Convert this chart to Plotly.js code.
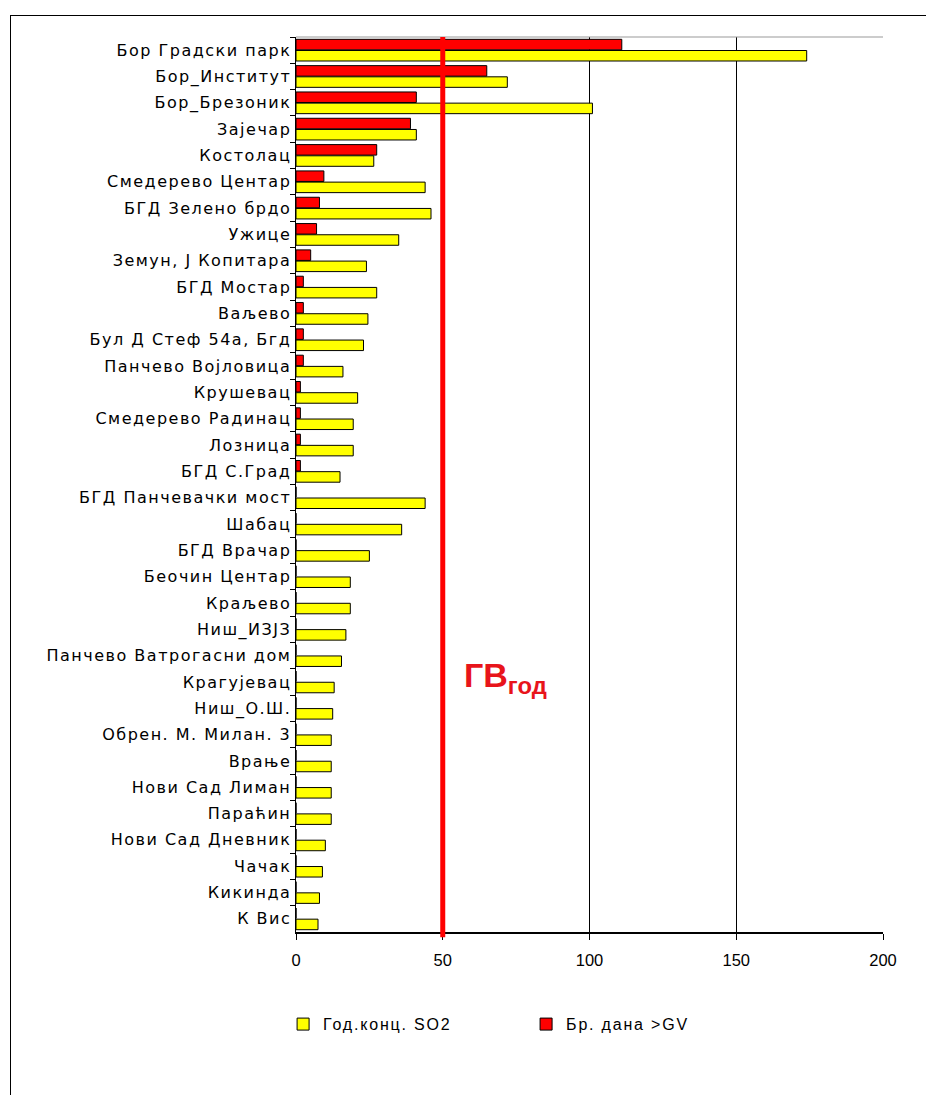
<!DOCTYPE html>
<html>
<head>
<meta charset="utf-8">
<script src="https://cdn.plot.ly/plotly-3.0.1.min.js"></script>
<style>
  html, body { margin: 0; padding: 0; background: #fff; }
  #wrap { position: relative; width: 926px; height: 1095px; overflow: hidden; }
  #chart { position: absolute; left: 0; top: 0; width: 926px; height: 1095px; }
  #frame { position: absolute; left: 10px; top: 15px; width: 930px; height: 1100px; border: 1px solid #000; pointer-events: none; }
  #chart .ytick text { letter-spacing: 1.5px; }
  #chart .legendtext { letter-spacing: 1.8px; }
</style>
</head>
<body>
<div id="wrap">
  <div id="chart"></div>
  <div id="frame"></div>
</div>
<script>
const stations = [
  "Бор Градски парк", "Бор_Институт", "Бор_Брезоник", "Зајечар", "Костолац",
  "Смедерево Центар", "БГД Зелено брдо", "Ужице", "Земун, Ј Копитара", "БГД Мостар",
  "Ваљево", "Бул Д Стеф 54а, Бгд", "Панчево Војловица", "Крушевац", "Смедерево Радинац",
  "Лозница", "БГД С.Град", "БГД Панчевачки мост", "Шабац", "БГД Врачар",
  "Беочин Центар", "Краљево", "Ниш_ИЗЈЗ", "Панчево Ватрогасни дом", "Крагујевац",
  "Ниш_О.Ш.", "Обрен. М. Милан. 3", "Врање", "Нови Сад Лиман", "Параћин",
  "Нови Сад Дневник", "Чачак", "Кикинда", "К Вис"
];
const annualSO2 = [
  174, 72, 101, 41, 26.5,
  44, 46, 35, 24, 27.5,
  24.5, 23, 16, 21, 19.5,
  19.5, 15, 44, 36, 25,
  18.5, 18.5, 17, 15.5, 13,
  12.5, 12, 12, 12, 12,
  10, 9, 8, 7.5
];
const daysOverGV = [
  111, 65, 41, 39, 27.5,
  9.5, 8, 7, 5, 2.5,
  2.5, 2.5, 2.5, 1.5, 1.5,
  1.5, 1.5, 0, 0, 0,
  0, 0, 0, 0, 0,
  0, 0, 0, 0, 0,
  0, 0, 0, 0
];
const seriesNames = ["Год.конц. SO2", "Бр. дана >GV"];
const limitValue = 50;
const limitLabel = "<b>ГВ<sub>год</sub></b>";
const xTicks = [0, 50, 100, 150, 200];

const font = "DejaVu Sans, Liberation Sans, Arial, sans-serif";
const fontArial = "Liberation Sans, Arial, sans-serif";

const traces = [
  {
    type: "bar", orientation: "h", name: seriesNames[1],
    y: stations, x: daysOverGV,
    marker: { color: "#FF0000", line: { color: "#000", width: 1 } },
    legendrank: 2, hoverinfo: "x+y"
  },
  {
    type: "bar", orientation: "h", name: seriesNames[0],
    y: stations, x: annualSO2,
    marker: { color: "#FFFF00", line: { color: "#000", width: 1 } },
    legendrank: 1, hoverinfo: "x+y"
  }
];

const layout = {
  width: 926, height: 1095,
  margin: { l: 296, r: 43, t: 37, b: 163 },
  paper_bgcolor: "#fff", plot_bgcolor: "#fff",
  barmode: "group", bargap: 0.15, bargroupgap: 0.06,
  font: { family: font, size: 15, color: "#000" },
  showlegend: true,
  legend: {
    orientation: "h", x: -0.022, xanchor: "left", y: -0.103, yanchor: "middle",
    font: { family: fontArial, size: 16, color: "#000" },
    entrywidth: 198, entrywidthmode: "pixels",
    itemwidth: 30, bgcolor: "rgba(0,0,0,0)"
  },
  xaxis: {
    range: [0, 200], tickvals: xTicks, ticktext: xTicks.map(String),
    showgrid: true, gridcolor: "#000", gridwidth: 1,
    zeroline: false, showline: true, linecolor: "#000", linewidth: 1.5,
    ticks: "outside", ticklen: 6, tickcolor: "#000", ticklabelstandoff: 7,
    tickfont: { family: fontArial, size: 16.5, color: "#000" }
  },
  yaxis: {
    type: "category", autorange: "reversed",
    showgrid: false, zeroline: false,
    showline: true, linecolor: "#000", linewidth: 1.5,
    ticks: "outside", ticklen: 5, tickcolor: "#000", tickson: "boundaries",
    tickfont: { family: font, size: 16, color: "#000" },
    automargin: false
  },
  shapes: [
    { type: "line", xref: "paper", yref: "paper", x0: 0, x1: 1, y0: 1, y1: 1,
      line: { color: "#999", width: 1 } },
    { type: "line", xref: "x", yref: "paper", x0: limitValue, x1: limitValue, y0: -0.006, y1: 1,
      line: { color: "#FF0000", width: 5 } }
  ],
  annotations: [
    { xref: "paper", yref: "paper", x: 0.357, y: 0.284, xanchor: "center", yanchor: "middle",
      text: limitLabel, showarrow: false,
      font: { family: fontArial, size: 34, color: "#E8141B" } }
  ]
};

Plotly.newPlot("chart", traces, layout, { staticPlot: true, displayModeBar: false });
</script>
</body>
</html>
